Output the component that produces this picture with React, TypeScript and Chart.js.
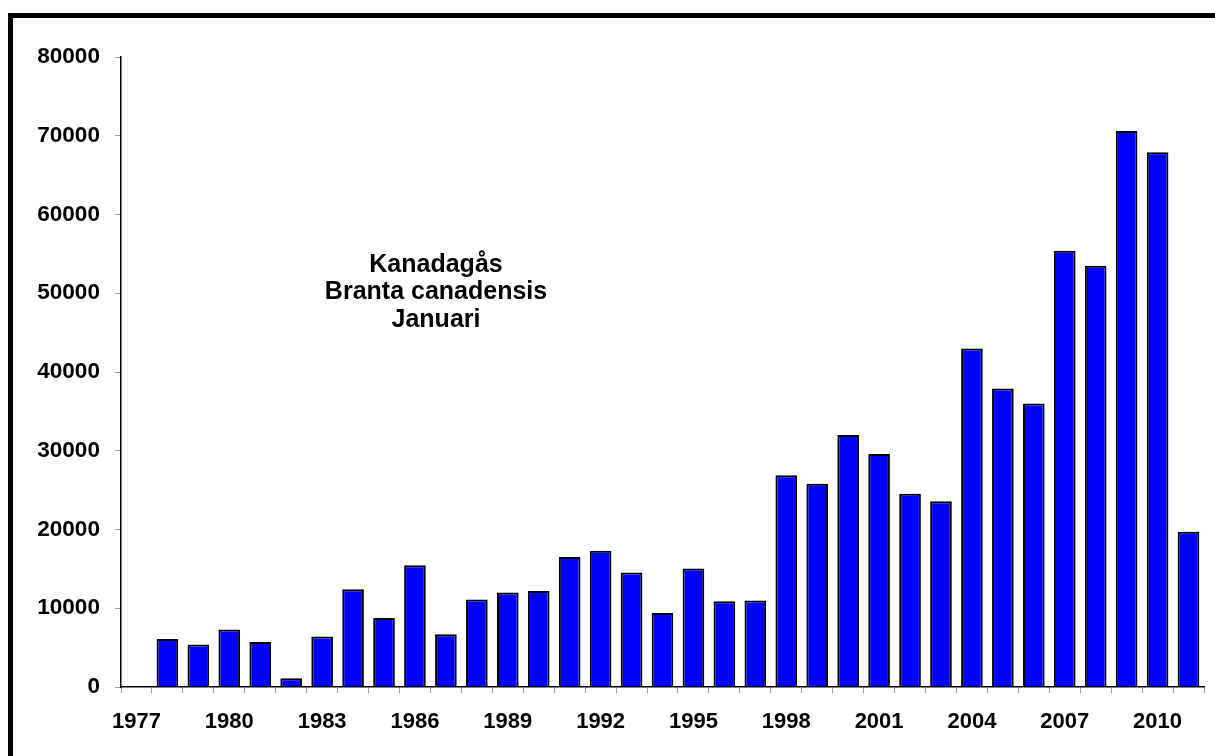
import { useEffect, useRef } from 'react';
import { Chart, registerables } from 'chart.js';

Chart.register(...registerables);

// Winter count of Canada geese, one value per January survey
const years = [
  '1977', '1978', '1979', '1980', '1981', '1982', '1983', '1984', '1985', '1986',
  '1987', '1988', '1989', '1990', '1991', '1992', '1993', '1994', '1995', '1996',
  '1997', '1998', '1999', '2000', '2001', '2002', '2003', '2004', '2005', '2006',
  '2007', '2008', '2009', '2010', '2011',
];

const counts: (number | null)[] = [
  null, 6100, 5400, 7300, 5700, 1100, 6400, 12400, 8750, 15450,
  6700, 11100, 12000, 12200, 16500, 17300, 14550, 9400, 15050, 10900,
  11000, 26900, 25800, 32000, 29600, 24550, 23600, 43000, 37900, 36000,
  55400, 53500, 70600, 67900, 19700,
];

// Years that carry a visible label on the x axis
const shownYears = ['1977', '1980', '1983', '1986', '1989', '1992', '1995', '1998', '2001', '2004', '2007', '2010'];

const yMin = 0;
const yMax = 80000;
const yStep = 10000;

const titleLines = ['Kanadagås', 'Branta canadensis', 'Januari'];

const FONT = '"Liberation Sans", Arial, sans-serif';

const titlePlugin = {
  id: 'innerTitle',
  afterDraw(chart: Chart) {
    const { ctx, chartArea } = chart;
    ctx.save();
    ctx.font = `bold 25px ${FONT}`;
    ctx.fillStyle = '#000';
    ctx.textAlign = 'center';
    ctx.textBaseline = 'middle';
    titleLines.forEach((line, i) => {
      ctx.fillText(line, chartArea.left + 315, chartArea.top + 208 + i * 27.5);
    });
    ctx.restore();
  },
};

export default function App() {
  const canvasRef = useRef<HTMLCanvasElement | null>(null);

  useEffect(() => {
    const canvas = canvasRef.current;
    if (!canvas) return;
    const chart = new Chart(canvas, {
      type: 'bar',
      data: {
        labels: years,
        datasets: [
          {
            data: counts,
            backgroundColor: '#0000ff',
            borderColor: '#000',
            borderWidth: 2,
            barPercentage: 0.7,
            categoryPercentage: 1.0,
          },
        ],
      },
      options: {
        responsive: false,
        animation: false,
        layout: { padding: { top: 39, right: 11, left: 0, bottom: 0 } },
        plugins: {
          legend: { display: false },
          tooltip: { enabled: false },
        },
        scales: {
          x: {
            offset: true,
            grid: {
              offset: true,
              drawOnChartArea: false,
              drawTicks: true,
              tickLength: 6,
              color: '#9a9a9a',
            },
            border: { display: true, color: '#000', width: 1.5 },
            ticks: {
              autoSkip: false,
              maxRotation: 0,
              padding: 16,
              color: '#000',
              font: { family: FONT, size: 22, weight: 'bold' },
              callback: (_v: any, i: number) => (shownYears.includes(years[i]) ? years[i] : ''),
            },
            afterFit: (scale: any) => {
              scale.height = 69;
            },
          },
          y: {
            min: yMin,
            max: yMax,
            grid: {
              drawOnChartArea: false,
              drawTicks: true,
              tickLength: 6,
              color: '#9a9a9a',
            },
            border: { display: true, color: '#000', width: 1.5 },
            ticks: {
              stepSize: yStep,
              padding: 15,
              color: '#000',
              font: { family: FONT, size: 22.6, weight: 'bold' },
              callback: (v: any) => String(v),
            },
            afterFit: (scale: any) => {
              scale.width = 108;
            },
          },
        },
      },
      plugins: [titlePlugin],
    });
    return () => chart.destroy();
  }, []);

  return (
    <div
      style={{
        position: 'fixed',
        left: 8,
        top: 13,
        right: 0,
        bottom: 0,
        borderTop: '5px solid #000',
        borderLeft: '5px solid #000',
        background: '#fff',
        overflow: 'hidden',
      }}
    >
      <canvas ref={canvasRef} width={1202} height={738} style={{ display: 'block' }} />
    </div>
  );
}
